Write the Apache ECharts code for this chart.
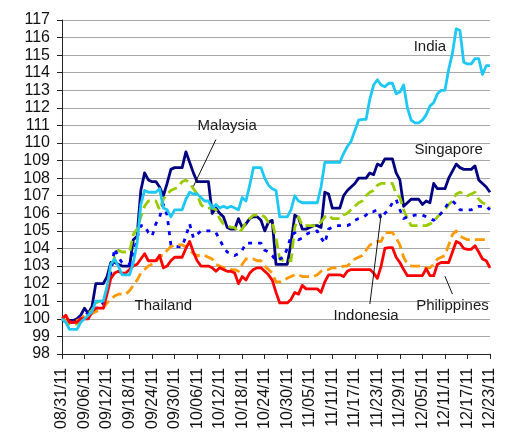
<!DOCTYPE html>
<html>
<head>
<meta charset="utf-8">
<script src="https://cdn.jsdelivr.net/npm/echarts@6/dist/echarts.min.js"></script>
<style>
  html, body { margin: 0; padding: 0; background: #fff; }
  #chart { width: 518px; height: 432px; }
</style>
</head>
<body>
<div id="chart"></div>
<script>
// daily index levels, 08/31/11 = 100
const startDate = new Date(2011, 7, 31)
const dayCount = 115

const singapore = [100.0,99.9,99.9,99.9,100.0,100.2,100.6,100.3,100.7,102.0,102.0,102.0,102.4,103.2,103.2,103.1,103.0,103.0,103.0,104.5,
  104.7,107.3,108.3,107.9,107.8,107.8,107.5,107.0,107.7,108.5,108.6,108.6,108.6,109.5,108.9,108.3,107.8,107.8,107.8,107.8,
  106.0,106.3,106.0,105.8,105.2,105.1,105.1,105.7,105.2,105.4,105.7,105.8,105.8,105.6,105.0,105.5,105.6,103.1,103.1,103.1,
  103.1,104.3,105.9,105.75,105.1,105.1,105.2,105.3,105.3,105.2,107.2,107.1,106.3,106.3,106.3,107.0,107.3,107.5,107.7,108.0,
  108.0,108.0,108.3,108.2,108.8,108.7,109.1,109.1,109.1,108.3,107.9,106.4,106.6,106.8,106.8,106.8,106.5,106.7,106.6,107.7,
  107.4,107.4,107.4,108.0,108.4,108.8,108.6,108.5,108.5,108.5,108.7,107.9,107.7,107.5,107.2]

const malaysia = [100.0,99.8,99.7,99.7,99.7,100.0,100.2,100.3,100.5,100.9,101.0,101.0,101.8,102.8,103.5,103.9,103.8,103.8,103.8,104.8,
  105.1,105.8,106.4,106.7,106.7,106.7,106.2,106.8,107.1,107.3,107.4,107.5,107.8,107.9,107.7,107.4,107.1,106.5,106.3,106.3,
  106.3,106.2,105.7,105.4,105.3,105.2,105.2,104.9,105.1,105.5,105.7,105.9,105.9,105.9,105.8,105.5,105.5,104.6,103.4,103.3,
  103.3,103.3,105.2,105.8,105.3,105.3,105.3,105.3,105.3,105.5,105.8,105.9,105.7,105.7,105.7,105.9,106.0,106.2,106.4,106.6,
  106.7,107.0,107.2,107.3,107.6,107.7,107.7,107.7,107.7,107.1,106.9,106.2,105.7,105.3,105.3,105.3,105.3,105.3,105.4,105.5,
  105.8,106.0,106.2,106.5,106.7,107.1,107.2,107.1,107.0,107.1,107.2,106.8,106.6,106.5,106.3]

const indonesia = [100.0,99.8,99.8,99.8,99.9,100.1,100.4,100.3,100.5,100.6,100.6,100.9,101.6,102.6,104.0,103.5,103.2,103.1,103.1,103.6,
  104.6,105.3,105.3,104.9,104.7,105.4,105.8,106.5,105.9,104.2,104.1,104.1,104.1,104.7,105.4,104.6,104.8,105.0,105.0,105.0,
  105.0,104.9,104.5,104.1,103.8,103.7,103.6,103.7,103.9,104.3,104.3,104.3,104.3,104.3,103.9,103.8,103.6,103.3,103.4,103.5,
  104.0,104.7,104.9,104.5,104.6,104.8,104.9,104.9,105.0,104.6,104.3,105.1,105.2,105.3,105.3,105.3,105.3,105.4,105.6,105.7,
  105.75,105.9,106.1,106.1,106.2,105.7,106.0,106.2,106.6,106.8,106.2,105.7,105.8,105.8,105.9,105.9,105.9,105.8,105.7,105.6,
  105.8,106.0,106.3,106.6,106.7,106.5,106.2,106.2,106.2,106.2,106.3,106.4,106.4,106.4,106.2]

const thailand = [100.0,99.9,99.8,99.8,99.9,100.0,100.2,100.3,100.3,100.4,100.5,100.6,100.9,101.1,101.3,101.4,101.4,101.4,101.6,101.9,
  102.2,102.6,102.8,103.0,103.1,103.2,103.6,103.6,103.9,104.1,104.2,104.2,104.2,104.1,103.9,103.7,103.6,103.6,103.6,103.5,
  103.4,103.1,103.0,102.9,102.9,102.8,102.8,102.7,103.1,103.4,103.4,103.4,103.3,103.3,103.0,102.8,102.6,102.1,102.1,102.2,
  102.3,102.4,102.5,102.5,102.4,102.4,102.4,102.4,102.5,102.7,102.8,102.8,102.9,102.9,102.9,103.0,103.0,103.2,103.4,103.5,
  103.6,103.9,104.2,104.3,104.4,104.4,104.9,104.9,104.9,104.6,104.2,103.5,103.1,103.0,103.0,103.0,103.0,102.9,102.9,103.1,
  103.4,103.5,103.6,104.2,104.8,105.0,104.7,104.6,104.5,104.5,104.5,104.5,104.5,104.5,104.5]

const philippines = [100.0,100.2,99.8,99.8,99.8,100.0,100.0,100.0,100.4,100.6,100.6,100.6,101.4,102.3,102.6,102.7,102.6,102.6,102.8,103.0,
  103.1,103.4,103.7,103.3,103.3,103.3,103.6,102.9,103.0,103.3,103.5,103.5,103.5,104.0,104.4,103.8,103.3,103.0,103.0,103.0,
  102.9,102.7,102.9,102.8,102.7,102.7,102.6,102.0,102.4,102.2,102.6,102.8,102.9,102.9,102.7,102.5,102.2,101.5,100.9,100.9,
  100.9,101.1,101.5,101.4,101.9,101.7,101.7,101.7,101.7,101.5,102.1,102.5,102.5,102.5,102.5,102.4,102.7,102.8,102.8,102.8,
  102.8,102.8,102.8,102.6,102.3,103.0,104.0,104.05,104.05,103.5,103.2,102.8,102.45,102.45,102.45,102.45,102.45,102.85,102.45,102.45,
  103.1,103.2,103.2,103.2,103.8,104.4,104.3,104.0,103.95,103.95,104.15,103.8,103.4,103.3,102.9]

const india = [100.0,99.8,99.4,99.4,99.4,99.8,100.0,100.2,100.4,101.0,101.0,101.0,101.8,103.1,103.4,103.0,102.5,102.5,102.5,103.2,
  104.3,106.5,107.3,107.2,107.2,107.2,107.4,106.3,106.2,105.8,106.2,106.2,106.2,106.8,107.2,107.1,107.1,106.9,106.7,106.7,
  106.3,106.5,106.3,106.4,106.3,106.4,106.3,106.2,106.9,106.7,107.6,108.6,108.6,108.6,108.0,107.6,107.4,107.3,105.8,105.8,
  105.8,106.2,107.0,106.7,106.6,106.6,106.6,106.6,106.6,107.5,108.9,108.9,108.9,108.9,108.9,109.4,109.8,110.1,110.7,111.3,
  111.35,111.35,112.5,113.3,113.6,113.3,113.2,113.4,113.4,112.8,112.9,113.3,112.0,111.3,111.15,111.15,111.3,111.6,112.1,112.3,
  112.8,113.0,113.0,114.2,115.1,116.5,116.4,114.6,114.5,114.5,114.8,114.8,113.9,114.4,114.4]

const pad = n => (n < 10 ? '0' : '') + n
const dates = []
for (let i = 0; i < dayCount; i++) {
  const d = new Date(startDate.getTime())
  d.setDate(d.getDate() + i)
  dates.push(pad(d.getMonth() + 1) + '/' + pad(d.getDate()) + '/' + String(d.getFullYear()).slice(2))
}

const font = 'Arial, "Liberation Sans", sans-serif'

const makeSeries = (name, data, color, type) => ({
  name: name,
  type: 'line',
  data: data,
  symbol: 'none',
  animation: false,
  lineStyle: { color: color, width: 2.8, type: type, cap: 'butt', join: 'round' }
})

let myChart = echarts.init(document.getElementById('chart'))
let option = {
  animation: false,
  textStyle: { fontFamily: font },
  grid: { left: 62, right: 28, top: 20, bottom: 77 },
  xAxis: {
    type: 'category',
    boundaryGap: false,
    data: dates,
    axisLine: { lineStyle: { color: '#222', width: 1 } },
    axisTick: { interval: 5, length: 5, lineStyle: { color: '#222' } },
    axisLabel: { interval: 5, rotate: 90, margin: 14, color: '#111', fontSize: 16, fontFamily: font },
    splitLine: { show: false }
  },
  yAxis: {
    type: 'value',
    min: 98,
    max: 117,
    interval: 1,
    axisLine: { show: true, lineStyle: { color: '#222', width: 1 } },
    axisTick: { show: true, length: 5, lineStyle: { color: '#222' } },
    axisLabel: { margin: 12, color: '#111', fontSize: 16, fontFamily: font },
    splitLine: { lineStyle: { color: '#a8a8a8', width: 1 } }
  },
  series: [
    makeSeries('Singapore', singapore, '#000080', 'solid'),
    makeSeries('Malaysia', malaysia, '#99CC00', [10, 5]),
    makeSeries('Indonesia', indonesia, '#0000FF', [4, 6]),
    makeSeries('Thailand', thailand, '#FF9900', [10, 5]),
    makeSeries('Philippines', philippines, '#FF0000', 'solid'),
    makeSeries('India', india, '#1EC8F5', 'solid')
  ]
}
myChart.setOption(option)

// country labels and leader lines, placed in data coordinates
const labels = [
  { text: 'India', at: [97.7, 115.5] },
  { text: 'Malaysia', at: [43.9, 111.0], from: [41.4, 110.2], to: [34.7, 107.53] },
  { text: 'Singapore', at: [102.8, 109.63] },
  { text: 'Thailand', at: [26.7, 100.75] },
  { text: 'Indonesia', at: [81.4, 100.16], from: [82.2, 100.84], to: [85.4, 105.94] },
  { text: 'Philippines', at: [103.6, 100.75], from: [102.3, 102.42], to: [104.1, 101.4] }
]
const toPx = p => myChart.convertToPixel({ xAxisIndex: 0, yAxisIndex: 0 }, p)
const elements = []
labels.forEach(l => {
  const p = toPx(l.at)
  elements.push({
    type: 'text', x: p[0], y: p[1], z: 100,
    style: { text: l.text, fill: '#1a1a1a', font: '15px ' + font, align: 'center', verticalAlign: 'middle' }
  })
  if (l.from) {
    const a = toPx(l.from), b = toPx(l.to)
    elements.push({
      type: 'line', z: 100,
      shape: { x1: a[0], y1: a[1], x2: b[0], y2: b[1] },
      style: { stroke: '#111', lineWidth: 1 }
    })
  }
})
myChart.setOption({ graphic: elements })
</script>
</body>
</html>
